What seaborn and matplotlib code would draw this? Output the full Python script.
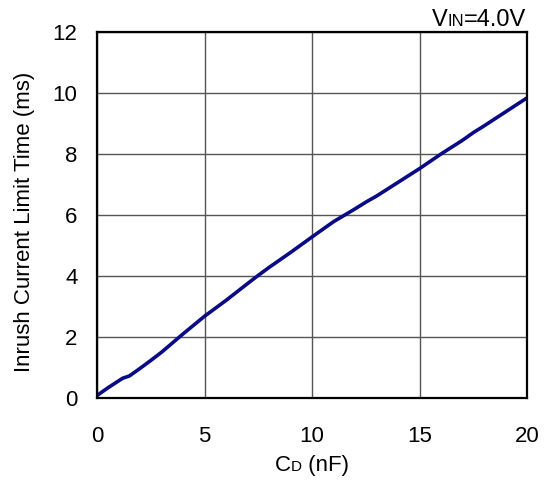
import matplotlib
matplotlib.use("Agg")
import matplotlib.pyplot as plt
import seaborn as sns
import pandas as pd
from matplotlib.offsetbox import TextArea, HPacker, AnchoredOffsetbox

cd_nf = [0, 0.5, 1.0, 1.2, 1.5, 2.0, 2.5, 3.0, 4.0, 5.0, 6.0, 7.0, 7.5, 8.0, 9.0,
         10.0, 11.0, 12.0, 12.5, 13.0, 14.0, 15.0, 16.0, 17.0, 17.5, 18.0, 19.0, 20.0]
time_ms = [0.08, 0.33, 0.56, 0.65, 0.72, 0.97, 1.23, 1.5, 2.1, 2.68, 3.2, 3.75, 4.02, 4.28, 4.77,
           5.28, 5.78, 6.2, 6.42, 6.62, 7.07, 7.52, 8.0, 8.45, 8.7, 8.92, 9.38, 9.84]
xticks = [0, 5, 10, 15, 20]
yticks = [0, 2, 4, 6, 8, 10, 12]

sns.set_style("white")
plt.rcParams['font.family'] = ['Liberation Sans', 'DejaVu Sans']
plt.rcParams['text.color'] = 'black'
plt.rcParams['axes.labelcolor'] = 'black'
plt.rcParams['xtick.color'] = 'black'
plt.rcParams['ytick.color'] = 'black'

fig = plt.figure(figsize=(5.45, 4.82), dpi=100)
ax = fig.add_axes([97/545, 1-398/482, 430/545, 366/482])

df = pd.DataFrame({"cd": cd_nf, "t": time_ms})
sns.lineplot(data=df, x="cd", y="t", ax=ax, color="#0a0a85", linewidth=2.6)

ax.set_xlim(0, 20)
ax.set_ylim(0, 12)
ax.set_xticks(xticks)
ax.set_yticks(yticks)
ax.tick_params(labelsize=16, length=0, labelcolor="black")
ax.tick_params(axis="x", pad=20)
ax.tick_params(axis="y", pad=14)
ax.grid(True, color="#555555", linewidth=1.0)
for s in ax.spines.values():
    s.set_color("black")
    s.set_linewidth(1.6)
ax.set_xlabel("")
ax.set_ylabel("Inrush Current Limit Time (ms)", fontsize=16, color="black")
ax.yaxis.set_label_coords(-62/430, 0.48)

def packed(parts):
    kids = [TextArea(t, textprops=dict(fontsize=fs, color="black")) for t, fs in parts]
    return HPacker(children=kids, align="baseline", pad=0, sep=0)

title = AnchoredOffsetbox(loc="lower right", child=packed([("V", 17), ("IN", 12), ("=4.0V", 17)]),
                          frameon=False, bbox_to_anchor=(1.0, 1.0), bbox_transform=ax.transAxes,
                          pad=0, borderpad=0.05)
ax.add_artist(title)

xl = AnchoredOffsetbox(loc="upper center", child=packed([("C", 16), ("D", 11), (" (nF)", 16)]),
                       frameon=False, bbox_to_anchor=(0.5, -0.155), bbox_transform=ax.transAxes,
                       pad=0, borderpad=0)
ax.add_artist(xl)

fig.savefig("out.png", dpi=100)
